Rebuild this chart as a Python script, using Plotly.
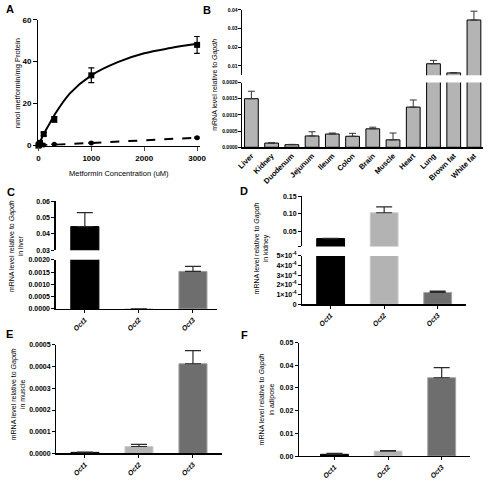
import plotly.graph_objects as go

W, H = 492, 483
FONT = "Arial, 'Liberation Sans', Helvetica, sans-serif"

# ---------------- Data ----------------
# Panel A: metformin uptake
conc = [0, 10, 30, 100, 300, 1000, 3000]
uptake_oct = [0, 0.5, 1.3, 5.5, 12.5, 33.5, 48.0]
uptake_oct_err = [0, 0.2, 0.4, 0.8, 1.3, 3.5, 4.0]
uptake_ctrl = [0, 0.05, 0.1, 0.3, 0.6, 1.3, 3.8]
uptake_ctrl_err = [0, 0.05, 0.05, 0.1, 0.1, 0.2, 0.3]
fit_conc = [0, 100, 200, 300, 600, 1000, 1500, 2000, 2500, 3000]
fit_oct = [0, 5.5, 10, 14.5, 25, 33.5, 39.8, 44, 46.5, 48.5]
fit_ctrl_conc = [0, 1000, 2000, 3000]
fit_ctrl = [0, 1.3, 2.5, 3.8]

# Panel B: tissue distribution
tissues = ['Liver', 'Kidney', 'Duodenum', 'Jejunum', 'Ileum', 'Colon', 'Brain',
           'Muscle', 'Heart', 'Lung', 'Brown fat', 'White fat']
tissue_expr = [0.0015, 0.00013, 0.00008, 0.00035, 0.00041, 0.00034, 0.00057,
               0.00023, 0.00124, 0.0112, 0.0063, 0.0346]
tissue_err = [0.00023, 0.00001, 0.00001, 0.00013, 0.00003, 0.00009, 0.00005,
              0.00021, 0.00022, 0.0018, 0.0002, 0.0047]

# Panels C-F: Oct isoforms
octs = ['Oct1', 'Oct2', 'Oct3']
liver = [0.0445, 0, 0.00153]
liver_err = [0.0085, None, 0.0002]
kidney = [0.029, 0.103, 0.000123]
kidney_err = [0.0005, 0.017, 0.000014]
muscle = [0.000005, 0.000032, 0.000413]
muscle_err = [0.000001, 0.00001, 0.00006]
adipose = [0.0008, 0.0022, 0.0345]
adipose_err = [0.0004, 0.0002, 0.0045]

oct_fill = ['#000000', '#b3b3b3', '#6e6e6e']
oct_line = ['#000000', '#cdcdcd', '#a3a3a3']


def xd(a, b):
    return [a / W, b / W]


def yd(top, bottom):
    return [1 - bottom / H, 1 - top / H]


fig = go.Figure()
layout = {}


def yaxis_style(**kw):
    d = dict(showline=True, linecolor='black', linewidth=1.3, ticks='outside',
             ticklen=3, tickwidth=1, tickcolor='black', showgrid=False,
             zeroline=False, tickfont=dict(family=FONT, size=7, color='black', weight='bold'))
    d.update(kw)
    return d


# ---------------- Panel A ----------------
fig.add_trace(go.Scatter(x=fit_conc, y=fit_oct, mode='lines', line=dict(color='black', width=2, shape='spline'),
                         xaxis='x', yaxis='y', cliponaxis=False, hoverinfo='skip'))
fig.add_trace(go.Scatter(x=fit_ctrl_conc, y=fit_ctrl, mode='lines',
                         line=dict(color='black', width=2, dash='dash'),
                         xaxis='x', yaxis='y', cliponaxis=False))
fig.add_trace(go.Scatter(x=conc, y=uptake_oct, mode='markers',
                         marker=dict(symbol='square', size=6, color='black'),
                         error_y=dict(type='data', array=uptake_oct_err, color='black', thickness=1.2, width=3),
                         xaxis='x', yaxis='y', cliponaxis=False))
fig.add_trace(go.Scatter(x=conc, y=uptake_ctrl, mode='markers',
                         marker=dict(symbol='circle', size=5, color='black'),
                         error_y=dict(type='data', array=uptake_ctrl_err, color='black', thickness=1.2, width=3),
                         xaxis='x', yaxis='y', cliponaxis=False))
layout['xaxis'] = dict(domain=xd(33.3, 199), range=[0, 3050], anchor='y', showline=True, linecolor='black',
                       linewidth=1.3, ticks='outside', ticklen=4, tickvals=[0, 1000, 2000, 3000],
                       showgrid=False, zeroline=False,
                       tickfont=dict(family=FONT, size=8, color='black', weight='bold'))
layout['yaxis'] = yaxis_style(domain=yd(16, 144.3), range=[0, 60], anchor='x', tickvals=[0, 20, 40, 60],
                              ticklen=4, tickfont=dict(family=FONT, size=8, color='black', weight='bold'))

# ---------------- Panel B (broken axis) ----------------
b_xrange = [-0.45, 11.45]
for (xa, ya, top, bot, rng, tv, tt, show_x) in [
    ('x2', 'y2', 6, 72.7, [0.005, 0.04], [0.01, 0.02, 0.03, 0.04], ['0.01', '0.02', '0.03', '0.04'], False),
    ('x3', 'y3', 80, 146, [0, 0.002], [0, 0.0005, 0.001, 0.0015, 0.002],
     ['0.0000', '0.0005', '0.0010', '0.0015', '0.0020'], True),
]:
    fig.add_trace(go.Bar(x=tissues, y=tissue_expr, width=0.68,
                         marker=dict(color='#b4b4b4', line=dict(color='black', width=1)),
                         error_y=dict(type='data', array=tissue_err, arrayminus=[0] * len(tissue_err),
                                      symmetric=False, color='#333333', thickness=1, width=3.5),
                         xaxis=xa, yaxis=ya))
    n = xa[1:]
    layout['xaxis' + n] = dict(domain=xd(242.7, 490), range=b_xrange, anchor=ya, visible=show_x,
                               type='category', categoryorder='array', categoryarray=tissues,
                               showline=True, linecolor='black', linewidth=1.3, ticks='',
                               tickangle=-45, showgrid=False,
                               tickfont=dict(family=FONT, size=7.5, color='black', weight='bold'))
    layout['yaxis' + n] = yaxis_style(domain=yd(top, bot), range=rng, anchor=xa, tickvals=tv, ticktext=tt,
                                      ticklen=2.5, tickfont=dict(family=FONT, size=5, color='black', weight='bold'))


# ---------------- Panels C-F ----------------
def oct_segment(xa, ya, vals, errs, xdom, xrange, top, bot, rng, tv, tt, show_x):
    fig.add_trace(go.Bar(x=octs, y=vals, width=0.52,
                         marker=dict(color=oct_fill, line=dict(color=oct_line, width=1)),
                         error_y=dict(type='data', array=errs, arrayminus=[0] * len(errs), symmetric=False,
                                      color='#2a2a2a', thickness=1.2, width=8),
                         xaxis=xa, yaxis=ya))
    n = xa[1:]
    layout['xaxis' + n] = dict(domain=xd(*xdom), range=xrange, anchor=ya, visible=show_x,
                               type='category', categoryorder='array', categoryarray=octs,
                               showline=True, linecolor='black', linewidth=1.3, ticks='outside',
                               ticklen=3, tickcolor='black', tickangle=-45, showgrid=False,
                               tickfont=dict(family=FONT, size=7, color='black', weight='bold', style='italic'))
    layout['yaxis' + n] = yaxis_style(domain=yd(top, bot), range=rng, anchor=xa, tickvals=tv, ticktext=tt)


# C liver
oct_segment('x4', 'y4', liver, liver_err, (51, 217), [-0.54, 2.45], 201, 251, [0.03, 0.06],
            [0.03, 0.04, 0.05, 0.06], ['0.03', '0.04', '0.05', '0.06'], False)
oct_segment('x5', 'y5', liver, liver_err, (51, 217), [-0.54, 2.45], 260.7, 310.7, [0, 0.002],
            [0, 0.0005, 0.001, 0.0015, 0.002], ['0.0000', '0.0005', '0.0010', '0.0015', '0.0020'], True)
# D kidney
oct_segment('x6', 'y6', kidney, kidney_err, (304.3, 472), [-0.53, 2.52], 196, 247, [0.0065, 0.15],
            [0.0065, 0.05, 0.10, 0.15], ['', '0.05', '0.10', '0.15'], False)
oct_segment('x7', 'y7', kidney, kidney_err, (304.3, 472), [-0.53, 2.52], 256.7, 306, [0, 0.0005],
            [0, 0.0001, 0.0002, 0.0003, 0.0004, 0.0005],
            ['0'] + ['%d×10<sup>-4</sup>' % k for k in range(1, 6)], True)
# E muscle
oct_segment('x8', 'y8', muscle, muscle_err, (51.7, 222), [-0.53, 2.54], 347.3, 458, [0, 0.0005],
            [0, 0.0001, 0.0002, 0.0003, 0.0004, 0.0005],
            ['0.0000', '0.0001', '0.0002', '0.0003', '0.0004', '0.0005'], True)
# F adipose
oct_segment('x9', 'y9', adipose, adipose_err, (301, 476.7), [-0.66, 2.53], 345, 460.7, [0, 0.05],
            [0, 0.01, 0.02, 0.03, 0.04, 0.05], ['0.00', '0.01', '0.02', '0.03', '0.04', '0.05'], True)

# ---------------- Text ----------------
ann = []


def add_text(x, y, text, size=7, angle=0, bold=False, xanchor='center', yanchor='middle'):
    ann.append(dict(x=x / W, y=1 - y / H, xref='paper', yref='paper', text=text, showarrow=False,
                    textangle=angle, xanchor=xanchor, yanchor=yanchor,
                    font=dict(family=FONT, size=size, color='black', weight='bold' if bold else 'normal')))


for letter, lx, ly in [('A', 4.5, 5), ('B', 206, 6), ('C', 5, 192), ('D', 244.5, 191), ('E', 4, 336), ('F', 245, 337)]:
    add_text(lx, ly, letter, size=11, bold=True)

add_text(12, 81, 'nmol metformin/mg Protein', size=7.5, angle=-90)
add_text(116, 173, 'Metformin Concentration (uM)', size=7.5)
add_text(215, 82, 'mRNA level relative to <i>Gapdh</i>', size=7, angle=-90)
add_text(11, 247, 'mRNA level relative to <i>Gapdh</i><br>in liver', size=7, angle=-90)
add_text(262, 249, 'mRNA level relative to <i>Gapdh</i><br>in kidney', size=7, angle=-90)
add_text(12, 398, 'mRNA level relative to <i>Gapdh</i><br>in muscle', size=7, angle=-90)
add_text(268, 403, 'mRNA level relative to <i>Gapdh</i><br>in adipose', size=7, angle=-90)

fig.update_layout(width=W, height=H, margin=dict(l=0, r=0, t=0, b=0), showlegend=False,
                  paper_bgcolor='white', plot_bgcolor='white', bargap=0, annotations=ann,
                  hovermode=False,
                  font=dict(family=FONT, color='black'), **layout)

fig.write_html("out.html", config={'displayModeBar': False, 'staticPlot': True},
               post_script="document.body.style.margin='0';document.body.style.padding='0';")
